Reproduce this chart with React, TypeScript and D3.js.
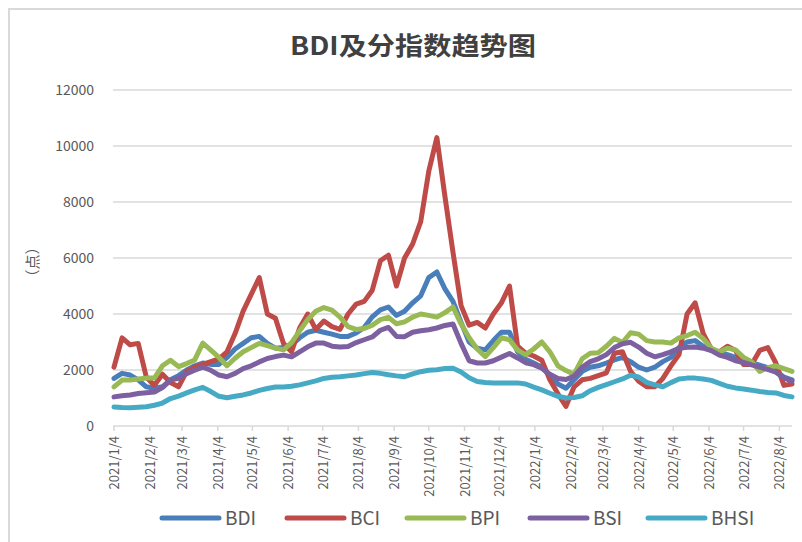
import React from 'react';
import * as d3 from 'd3';

const width = 802;
const height = 542;
const plot = { left: 114, right: 792, top: 90, bottom: 426 };

const title = 'BDI及分指数趋势图';
const yLabel = '（点）';
const seriesNames = ['BDI', 'BCI', 'BPI', 'BSI', 'BHSI'];
const colors = ['#4a7ebb', '#be4b48', '#98b954', '#7d60a0', '#46aac5'];
const yTicks = [0, 2000, 4000, 6000, 8000, 10000, 12000];
const xTickLabels = [
  '2021/1/4', '2021/2/4', '2021/3/4', '2021/4/4', '2021/5/4', '2021/6/4', '2021/7/4',
  '2021/8/4', '2021/9/4', '2021/10/4', '2021/11/4', '2021/12/4', '2022/1/4', '2022/2/4',
  '2022/3/4', '2022/4/4', '2022/5/4', '2022/6/4', '2022/7/4', '2022/8/4'
];
// weekly readings, first week starting 2021/1/4
const firstWeek = '2021/1/4';

const bdi = [
  1700, 1880, 1820, 1650, 1400, 1350, 1400, 1650, 1800, 2000, 2150, 2250, 2200, 2200, 2450,
  2750, 2950, 3150, 3200, 2950, 2780, 2800, 2900, 3150, 3350, 3420, 3350, 3280, 3200, 3200,
  3320, 3520, 3900, 4150, 4250, 3950, 4100, 4400, 4650, 5300, 5500, 4900, 4450, 3700, 3000,
  2780, 2720, 3050, 3350, 3350, 2650, 2380, 2250, 2100, 1800, 1500, 1350, 1650, 1950, 2100,
  2150, 2250, 2360, 2450, 2300, 2100, 2000, 2100, 2300, 2450, 2800, 3000, 3050, 2850, 2700,
  2620, 2550, 2450, 2350, 2250, 2170, 2080, 1950, 1750, 1650
];
const bci = [
  2100, 3150, 2900, 2950, 1750, 1450, 1850, 1550, 1400, 1950, 2100, 2200, 2300, 2400, 2650,
  3300, 4100, 4700, 5300, 4000, 3850, 2950, 2650, 3500, 4000, 3450, 3750, 3550, 3450, 4000,
  4350, 4450, 4850, 5900, 6100, 5000, 6000, 6500, 7300, 9100, 10300, 8200, 6200, 4300, 3600,
  3700, 3500, 4000, 4400, 5000, 2850, 2600, 2500, 2350, 1650, 1150, 700, 1400, 1650, 1700,
  1800, 1900, 2600, 2650, 1950, 1600, 1400, 1400, 1700, 2150, 2550, 4000, 4400, 3300, 2750,
  2650, 2850, 2700, 2200, 2200, 2700, 2800, 2250, 1450, 1500
];
const bpi = [
  1400, 1640, 1640, 1680, 1710, 1710, 2150, 2350, 2120, 2230, 2360, 2960, 2710, 2450, 2150,
  2420, 2650, 2800, 2950, 2870, 2780, 2720, 2980, 3400, 3800, 4100, 4230, 4140, 3890, 3550,
  3450, 3480, 3600, 3800, 3880, 3650, 3720, 3890, 4000, 3950, 3890, 4050, 4250, 3650, 3150,
  2750, 2480, 2800, 3150, 3080, 2710, 2550, 2750, 3000, 2650, 2150, 1980, 1850, 2400, 2600,
  2620, 2850, 3130, 2980, 3330, 3280, 3050, 3000, 3000, 2960, 3150, 3230, 3350, 3120, 2780,
  2640, 2780, 2720, 2450, 2300, 1950, 2080, 2150, 2050, 1950
];
const bsi = [
  1040, 1080, 1110, 1160, 1190, 1210, 1370, 1640, 1700, 1870, 1990, 2100, 1990, 1820, 1760,
  1880, 2050, 2150, 2290, 2410, 2480, 2530, 2470, 2650, 2830, 2960, 2960, 2850, 2820, 2840,
  2980, 3080, 3180, 3420, 3520, 3200, 3190, 3350, 3400, 3440, 3500, 3590, 3640, 2950, 2330,
  2250, 2250, 2330, 2460, 2590, 2430, 2260, 2190, 2060, 1850, 1700, 1660, 1780, 2100, 2300,
  2400, 2550, 2800, 2940, 2990, 2820, 2600, 2470, 2550, 2650, 2780, 2810, 2820, 2780, 2690,
  2530, 2450, 2330, 2270, 2180, 2100, 2020, 1920, 1720, 1600
];
const bhsi = [
  680, 660, 650, 670, 690, 740, 820, 980, 1070, 1180, 1290, 1380, 1230, 1060, 1010,
  1060, 1110, 1180, 1270, 1340, 1390, 1390, 1420, 1470, 1540, 1610, 1700, 1740, 1760, 1790,
  1820, 1870, 1910, 1880, 1830, 1790, 1760, 1860, 1940, 1990, 2010, 2050, 2060, 1930, 1720,
  1590, 1550, 1540, 1540, 1540, 1540, 1500, 1390, 1290, 1170, 1060, 1000, 1020, 1080, 1260,
  1380, 1480, 1580, 1680, 1810, 1750, 1560, 1470, 1400, 1550, 1680, 1710, 1710, 1680, 1630,
  1520, 1420, 1360, 1320, 1280, 1230, 1200, 1180, 1090, 1040
];

const series = [bdi, bci, bpi, bsi, bhsi];
const legendX = [162, 287, 407, 530, 648];

const font = '"Noto Sans CJK SC", "Noto Sans", sans-serif';
const textColor = '#595959';

export default function App() {
  const parse = d3.timeParse('%Y/%m/%d');
  const start = parse(firstWeek) as Date;
  const dates = bdi.map((_, i) => d3.timeDay.offset(start, i * 7));

  const x = d3.scaleTime().domain([dates[0], dates[dates.length - 1]]).range([plot.left, plot.right]);
  const y = d3.scaleLinear().domain([0, 12000]).range([plot.bottom, plot.top]);

  const line = d3
    .line<number>()
    .x((_, i) => x(dates[i]))
    .y(d => y(d));

  return (
    <svg width={width} height={height} style={{ position: 'absolute', left: 0, top: 0, background: '#fff' }}>
      <rect x={9} y={9} width={width} height={height} fill="#fff" stroke="#d9d9d9" strokeWidth={2} />
      <text
        x={290}
        y={55}
        textLength={246}
        lengthAdjust="spacingAndGlyphs"
        fontFamily={font}
        fontSize={25}
        fontWeight="bold"
        fill="#404040"
      >
        {title}
      </text>

      {yTicks.map(t => (
        <g key={t}>
          <line x1={plot.left - 1} x2={plot.right} y1={y(t)} y2={y(t)} stroke="#d9d9d9" strokeWidth={1.5} />
          <text x={94} y={y(t) + 5} textAnchor="end" fontFamily={font} fontSize={14} fill={textColor}>
            {t}
          </text>
        </g>
      ))}

      <text
        transform={`translate(38, 262) rotate(-90)`}
        textAnchor="middle"
        fontFamily={font}
        fontSize={15}
        fill={textColor}
      >
        {yLabel}
      </text>

      {xTickLabels.map(lbl => {
        const tx = x(parse(lbl) as Date);
        return (
          <g key={lbl}>
            <line x1={tx} x2={tx} y1={plot.bottom} y2={plot.bottom + 5} stroke="#d9d9d9" strokeWidth={1.5} />
            <text
              transform={`translate(${tx + 5}, ${plot.bottom + 10}) rotate(-90)`}
              textAnchor="end"
              fontFamily={font}
              fontSize={13}
              fill={textColor}
            >
              {lbl}
            </text>
          </g>
        );
      })}

      {series.map((s, k) => (
        <path
          key={seriesNames[k]}
          d={line(s) || ''}
          fill="none"
          stroke={colors[k]}
          strokeWidth={5}
          strokeLinejoin="round"
          strokeLinecap="round"
        />
      ))}

      {seriesNames.map((name, k) => (
        <g key={name} transform={`translate(${legendX[k]}, 518)`}>
          <line x1={0} x2={57} y1={0} y2={0} stroke={colors[k]} strokeWidth={5} strokeLinecap="round" />
          <text x={63} y={7} fontFamily={font} fontSize={19} fill={textColor}>
            {name}
          </text>
        </g>
      ))}
    </svg>
  );
}
